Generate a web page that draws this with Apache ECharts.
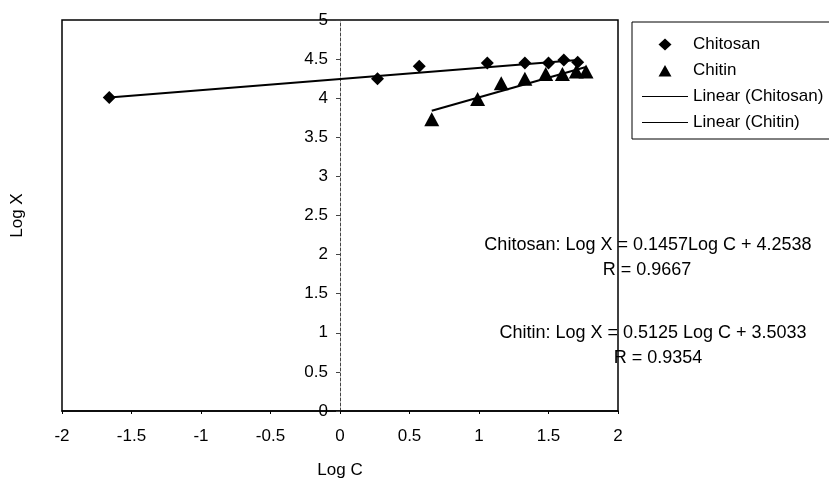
<!DOCTYPE html>
<html>
<head>
<meta charset="utf-8">
<script src="https://cdn.jsdelivr.net/npm/echarts@6/dist/echarts.min.js"></script>
<style>html,body{margin:0;padding:0;background:#fff;}#c{width:829px;height:487px;}</style>
</head>
<body>
<div id="c"></div>
<script>
// Data
var chitosanX = [-1.66, 0.27, 0.57, 1.06, 1.33, 1.50, 1.61, 1.71];
var chitosanY = [4.01, 4.25, 4.41, 4.45, 4.45, 4.45, 4.49, 4.46];
var chitinX = [0.66, 0.99, 1.16, 1.33, 1.48, 1.60, 1.70, 1.77];
var chitinY = [3.73, 3.99, 4.19, 4.25, 4.31, 4.31, 4.34, 4.34];
var chitosanFitX = [-1.66, 1.71];
var chitosanFitY = [4.01, 4.49];
var chitinFitX = [0.66, 1.77];
var chitinFitY = [3.84, 4.40];
var seriesNames = ['Chitosan', 'Chitin', 'Linear (Chitosan)', 'Linear (Chitin)'];
var equationTexts = ['Chitosan: Log X = 0.1457Log C + 4.2538', 'R = 0.9667', 'Chitin: Log X = 0.5125 Log C + 3.5033', 'R = 0.9354'];

function pairs(xs, ys) { return xs.map(function (x, i) { return [x, ys[i]]; }); }

var FONT = '"Liberation Sans", Arial, sans-serif';
var FS = 17;
var EQ_FS = 18;
// legend icons drawn in a 46x12 box (M points set the box extents)
var ICON_DIAMOND = 'path://M0,0 M46,12 M23,0 L29.5,6 L23,12 L16.5,6 Z';
var ICON_TRIANGLE = 'path://M0,0 M46,12 M23,0.5 L29.5,12 L16.5,12 Z';
var ICON_LINE = 'path://M0,0 M46,12 M0,5.5 L46,5.5 L46,6.5 L0,6.5 Z';

var GRID_LEFT = 62, GRID_W = 556;
var chart = echarts.init(document.getElementById('c'), null, {renderer: 'canvas'});
chart.setOption({
  backgroundColor: '#fff',
  animation: false,
  textStyle: {fontFamily: FONT, color: '#000'},
  grid: {left: GRID_LEFT, right: 829 - GRID_LEFT - GRID_W, top: 20, bottom: 76, containLabel: false, outerBoundsMode: 'none',
         show: true, borderColor: '#000', borderWidth: 1.5, backgroundColor: 'transparent'},
  legend: {
    orient: 'vertical', left: 632, top: 22,
    padding: [14, 60, 8, 10],
    borderColor: '#000', borderWidth: 1,
    itemWidth: 46, itemHeight: 12, itemGap: 9,
    textStyle: {fontFamily: FONT, fontSize: FS, color: '#000'},
    data: [
      {name: seriesNames[0], icon: ICON_DIAMOND},
      {name: seriesNames[1], icon: ICON_TRIANGLE},
      {name: seriesNames[2], icon: ICON_LINE},
      {name: seriesNames[3], icon: ICON_LINE}
    ]
  },
  xAxis: {
    type: 'value', min: -2, max: 2, interval: 0.5,
    name: 'Log C', nameLocation: 'middle', nameGap: 51,
    nameTextStyle: {fontFamily: FONT, fontSize: FS, color: '#000'},
    axisLine: {onZero: false, lineStyle: {color: '#000', width: 1.5}},
    axisTick: {show: true, length: 3, lineStyle: {color: '#000'}},
    axisLabel: {fontFamily: FONT, fontSize: FS, color: '#000', margin: 17},
    splitLine: {show: false}
  },
  yAxis: {
    type: 'value', min: 0, max: 5, interval: 0.5,
    position: 'left', offset: -GRID_W / 2,
    name: 'Log X', nameLocation: 'middle', nameGap: 314, nameRotate: 90,
    nameTextStyle: {fontFamily: FONT, fontSize: FS, color: '#000'},
    axisLine: {onZero: false, lineStyle: {color: '#444', width: 1, type: [3, 2]}},
    axisTick: {show: true, length: 4, lineStyle: {color: '#444'}},
    axisLabel: {fontFamily: FONT, fontSize: FS, color: '#000', margin: 12},
    splitLine: {show: false}
  },
  series: [
    {name: seriesNames[0], type: 'scatter', symbol: 'diamond', symbolSize: 13, itemStyle: {color: '#000', opacity: 1}, data: pairs(chitosanX, chitosanY), z: 3},
    {name: seriesNames[1], type: 'scatter', symbol: 'triangle', symbolSize: [15, 14], itemStyle: {color: '#000', opacity: 1}, data: pairs(chitinX, chitinY), z: 3},
    {name: seriesNames[2], type: 'line', symbol: 'none', lineStyle: {color: '#000', width: 2}, itemStyle: {color: '#000'}, data: pairs(chitosanFitX, chitosanFitY), z: 2},
    {name: seriesNames[3], type: 'line', symbol: 'none', lineStyle: {color: '#000', width: 2}, itemStyle: {color: '#000'}, data: pairs(chitinFitX, chitinFitY), z: 2}
  ],
  graphic: [
    {type: 'text', x: 648, y: 245, z: 10, style: {text: equationTexts[0], font: EQ_FS + 'px ' + FONT, fill: '#000', align: 'center', verticalAlign: 'middle'}},
    {type: 'text', x: 647, y: 270, z: 10, style: {text: equationTexts[1], font: EQ_FS + 'px ' + FONT, fill: '#000', align: 'center', verticalAlign: 'middle'}},
    {type: 'text', x: 653, y: 333, z: 10, style: {text: equationTexts[2], font: EQ_FS + 'px ' + FONT, fill: '#000', align: 'center', verticalAlign: 'middle'}},
    {type: 'text', x: 658, y: 358, z: 10, style: {text: equationTexts[3], font: EQ_FS + 'px ' + FONT, fill: '#000', align: 'center', verticalAlign: 'middle'}}
  ]
});
</script>
</body>
</html>
